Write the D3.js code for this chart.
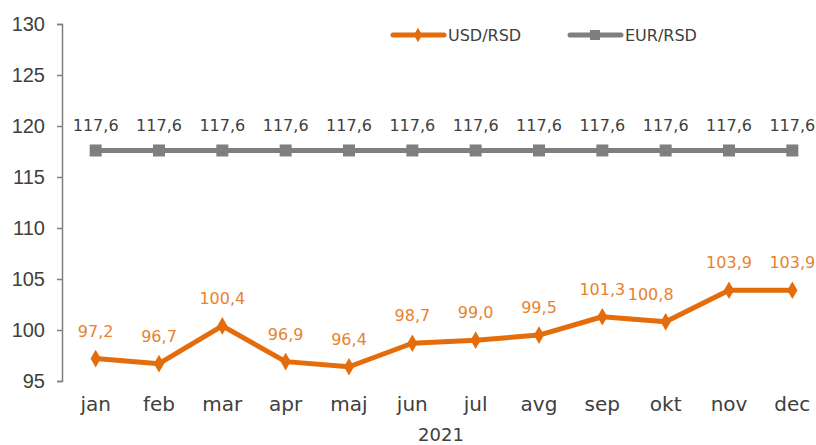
<!DOCTYPE html>
<html>
<head>
<meta charset="utf-8">
<script src="https://cdn.jsdelivr.net/npm/d3@7"></script>
<style>
  body { margin: 0; background: #fff; }
  svg { font-family: "DejaVu Sans", sans-serif; }
</style>
</head>
<body>
<div id="chart"></div>
<script>
// Monthly average exchange rates, 2021
const months = ["jan", "feb", "mar", "apr", "maj", "jun", "jul", "avg", "sep", "okt", "nov", "dec"];
const usdRsd = [97.2, 96.7, 100.4, 96.9, 96.4, 98.7, 99.0, 99.5, 101.3, 100.8, 103.9, 103.9];
const eurRsd = [117.6, 117.6, 117.6, 117.6, 117.6, 117.6, 117.6, 117.6, 117.6, 117.6, 117.6, 117.6];
const yTicks = [95, 100, 105, 110, 115, 120, 125, 130];

const width = 816, height = 445;
const orange = "#E46C0A", gray = "#7F7F7F";

const svg = d3.select("#chart")
    .append("svg")
    .attr("width", width)
    .attr("height", height);

const x = d3.scalePoint()
    .domain(months)
    .range([64, 824])
    .padding(0.5);

const y = d3.scaleLinear()
    .domain([95, 130])
    .range([381, 24]);

const fmt = v => v.toFixed(1).replace(".", ",");

// y axis
const yAxis = svg.append("g")
    .attr("transform", "translate(62,0)")
    .call(d3.axisLeft(y).tickValues(yTicks).tickSize(5).tickPadding(12).tickFormat(d3.format("d")));
yAxis.select(".domain").attr("stroke", gray).attr("stroke-width", 1.5);
yAxis.selectAll(".tick line").attr("stroke", gray).attr("stroke-width", 1.5);
yAxis.selectAll("text").attr("font-size", 20).attr("fill", "#404040");

// month labels
svg.append("g")
    .selectAll("text")
    .data(months)
    .join("text")
    .attr("x", d => x(d))
    .attr("y", 411)
    .attr("text-anchor", "middle")
    .attr("font-size", 20)
    .attr("fill", "#404040")
    .text(d => d);

svg.append("text")
    .attr("x", 441)
    .attr("y", 441)
    .attr("text-anchor", "middle")
    .attr("font-size", 18)
    .attr("fill", "#404040")
    .text("2021");

const line = d3.line()
    .x((d, i) => x(months[i]))
    .y(d => y(d));

// EUR/RSD
svg.append("path")
    .datum(eurRsd)
    .attr("fill", "none")
    .attr("stroke", gray)
    .attr("stroke-width", 5)
    .attr("d", line);

svg.append("g")
    .selectAll("rect")
    .data(eurRsd)
    .join("rect")
    .attr("x", (d, i) => x(months[i]) - 6)
    .attr("y", d => y(d) - 6)
    .attr("width", 12)
    .attr("height", 12)
    .attr("fill", gray);

svg.append("g")
    .selectAll("text")
    .data(eurRsd)
    .join("text")
    .attr("x", (d, i) => x(months[i]))
    .attr("y", d => y(d) - 19)
    .attr("text-anchor", "middle")
    .attr("font-size", 16)
    .attr("fill", "#404040")
    .text(fmt);

// USD/RSD
svg.append("path")
    .datum(usdRsd)
    .attr("fill", "none")
    .attr("stroke", orange)
    .attr("stroke-width", 5)
    .attr("stroke-linejoin", "round")
    .attr("d", line);

svg.append("g")
    .selectAll("path")
    .data(usdRsd)
    .join("path")
    .attr("transform", (d, i) => `translate(${x(months[i])},${y(d)})`)
    .attr("d", d3.symbol(d3.symbolDiamond, 90))
    .attr("fill", orange);

svg.append("g")
    .selectAll("text")
    .data(usdRsd)
    .join("text")
    .attr("x", (d, i) => x(months[i]) - (months[i] === "okt" ? 15 : 0))
    .attr("y", d => y(d) - 22)
    .attr("text-anchor", "middle")
    .attr("font-size", 16)
    .attr("fill", "#E8822F")
    .text(fmt);

// legend
const legend = svg.append("g");
const items = [
    { name: "USD/RSD", color: orange, x: 393 },
    { name: "EUR/RSD", color: gray, x: 570 }
];
items.forEach(it => {
    const g = legend.append("g").attr("transform", `translate(${it.x},35)`);
    g.append("line")
        .attr("x1", 0).attr("x2", 51)
        .attr("stroke", it.color)
        .attr("stroke-width", 5)
        .attr("stroke-linecap", "round");
    if (it.name === "USD/RSD") {
        g.append("path")
            .attr("transform", "translate(25,0)")
            .attr("d", d3.symbol(d3.symbolDiamond, 60))
            .attr("fill", it.color);
    } else {
        g.append("rect")
            .attr("x", 20).attr("y", -5)
            .attr("width", 10).attr("height", 10)
            .attr("fill", it.color);
    }
    g.append("text")
        .attr("x", 55)
        .attr("y", 6)
        .attr("font-size", 16)
        .attr("fill", "#404040")
        .text(it.name);
});
</script>
</body>
</html>
